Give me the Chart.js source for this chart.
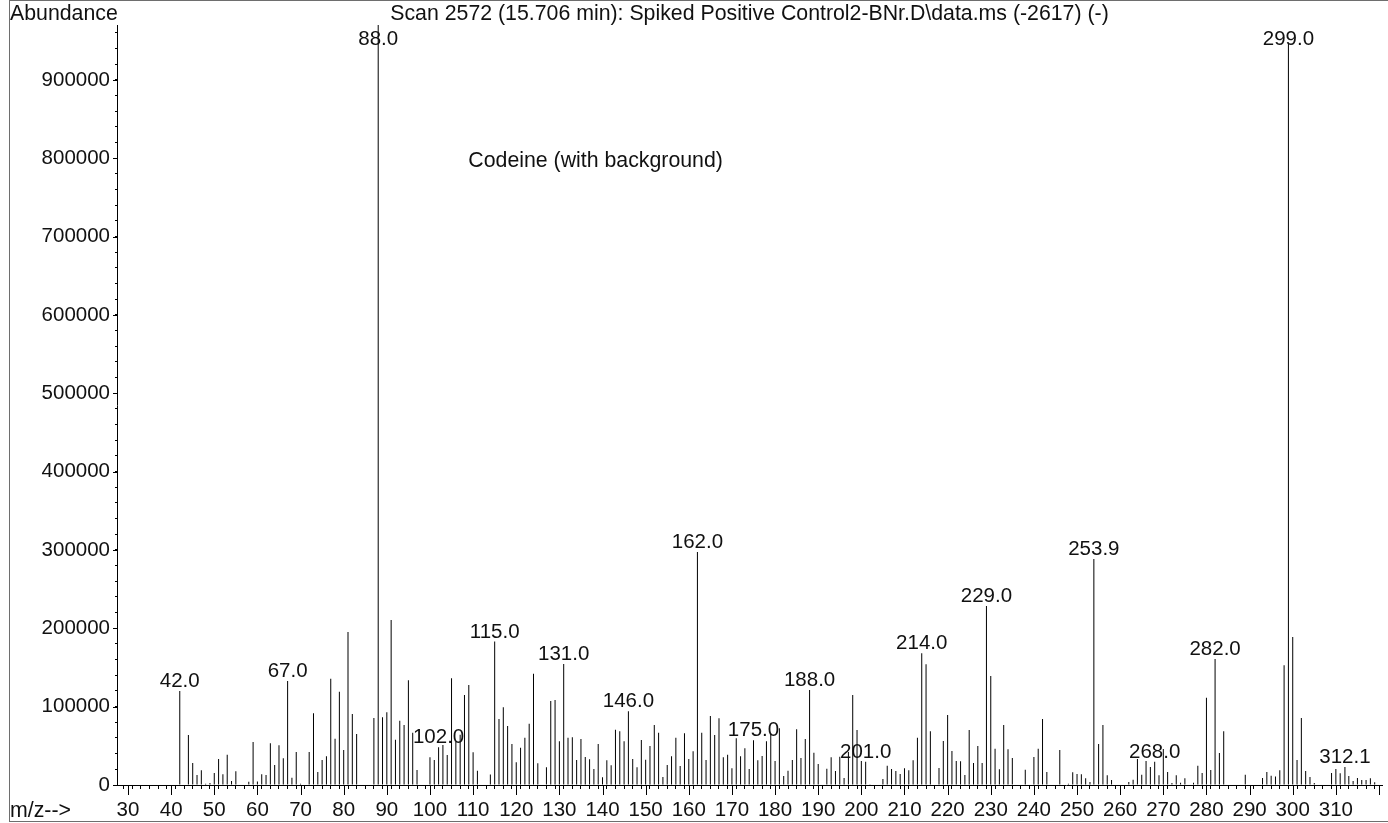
<!DOCTYPE html>
<html>
<head>
<meta charset="utf-8">
<script src="https://cdn.jsdelivr.net/npm/chart.js@4.4.1/dist/chart.umd.min.js"></script>
<style>
  html, body { margin: 0; padding: 0; background: #fff; }
  #wrap { width: 1388px; height: 823px; }
</style>
</head>
<body>
<div id="wrap"><canvas id="mycanvas" width="1388" height="823"></canvas></div>
<script>
// m/z of every stick and its abundance
const mz = [
  42, 44, 45, 46, 47, 48, 49, 50, 51, 52, 53, 54, 55, 58, 59, 60, 61, 62, 63, 64, 65, 66, 67, 68, 69, 70,
  72, 73, 74, 75, 76, 77, 78, 79, 80, 81, 82, 83, 87, 88, 89, 90, 91, 92, 93, 94, 95, 96, 97,
  100, 101, 102, 103, 104, 105, 106, 107, 108, 109, 110, 111, 114, 115, 116, 117, 118, 119, 120,
  121, 122, 123, 124, 125, 127, 128, 129, 130, 131, 132, 133, 134, 135, 136, 137, 138, 139, 140,
  141, 142, 143, 144, 145, 146, 147, 148, 149, 150, 151, 152, 153, 154, 155, 156, 157, 158, 159, 160,
  161, 162, 163, 164, 165, 166, 167, 168, 169, 170, 171, 172, 173, 174, 175, 176, 177, 178, 179, 180,
  181, 182, 183, 184, 185, 186, 187, 188, 189, 190, 192, 193, 194, 195, 196, 197, 198, 199, 200,
  201, 202, 205, 206, 207, 208, 209, 210, 211, 212, 213, 214, 215, 216, 218, 219, 220,
  221, 222, 223, 224, 225, 226, 227, 228, 229, 230, 231, 232, 233, 234, 235, 238, 240,
  241, 242, 243, 246, 248, 249, 250, 251, 252, 253, 253.9, 255, 256, 257, 258, 262, 263, 264, 265, 266, 267, 268, 269, 270,
  271, 272, 273, 274, 275, 277, 278, 279, 280, 281, 282, 283, 284, 289, 293, 294, 295, 296, 297, 298, 299, 300,
  301, 302, 303, 304, 305, 309, 310, 311, 312.1, 313, 314, 315, 316, 317, 318, 319
];
const abundance = [
  120000, 63800, 28000, 12800, 18700, 1500, 2500, 15300, 33200, 13600, 38700, 5100, 17400, 4000, 54900, 4500, 13600, 12800, 53200, 25500, 50600, 34000, 132800, 9400, 42100, 1500,
  42100, 91500, 16600, 31900, 36600, 135700, 59100, 119100, 44700, 195300, 90600, 65100, 85500, 970000, 86400, 92800, 210600, 57900, 82100, 76600, 133600, 66800, 19100,
  35300, 31900, 48100, 51100, 38300, 136200, 55300, 64000, 114900, 127700, 41700, 18300, 13400, 183000, 84300, 99100, 75300, 52300, 28900,
  47700, 60400, 78300, 142100, 27700, 22600, 107200, 108500, 55700, 154500, 60400, 60800, 31900, 58700, 35700, 32800, 20400, 52300, 9800,
  31500, 25100, 70600, 68500, 55700, 94000, 33200, 22600, 57400, 32300, 49800, 76600, 66800, 10200, 25500, 36600, 60400, 24300, 66000, 33200,
  43000, 297500, 66800, 31900, 88100, 63800, 85100, 35300, 38700, 21300, 59600, 36600, 46800, 20400, 57000, 31500, 37000, 55800, 66000, 30600,
  72300, 11500, 18300, 31900, 71100, 34500, 58700, 121300, 41300, 26800, 20800, 35300, 17900, 36000, 8900, 42000, 114900, 70200, 30600,
  29800, 1000, 7700, 24700, 20400, 17900, 14000, 21300, 18700, 31500, 60400, 168100, 154000, 68500, 21700, 56200, 89400,
  43400, 30600, 30200, 12800, 70300, 28100, 49800, 28100, 228500, 139100, 46400, 20000, 76600, 45500, 34500, 19600, 35700,
  46400, 84300, 16600, 44700, 1700, 16200, 14000, 13600, 8500, 3800, 288500, 52300, 76600, 12300, 6400, 3800, 6800, 33200, 13200, 30600, 23000, 29800, 12300, 46000,
  16600, 2600, 12300, 3000, 8500, 3000, 24700, 15300, 111500, 19100, 160900, 40900, 68500, 13200, 8900, 16600, 11900, 10900, 18700, 152800, 947000, 188900,
  31900, 85500, 17900, 10200, 2600, 15300, 20400, 14900, 23000, 11500, 5100, 8900, 6400, 6400, 8500, 3400
];

// peaks that carry an m/z label
const peakMz = [42, 67, 88, 102, 115, 131, 146, 162, 175, 188, 201, 214, 229, 253.9, 268, 282, 299, 312.1];
const peakText = ['42.0', '67.0', '88.0', '102.0', '115.0', '131.0', '146.0', '162.0', '175.0', '188.0',
  '201.0', '214.0', '229.0', '253.9', '268.0', '282.0', '299.0', '312.1'];

const titleText = 'Scan 2572 (15.706 min): Spiked Positive Control2-BNr.D\\data.ms (-2617) (-)';
const noteText = 'Codeine (with background)';
const yName = 'Abundance';
const xName = 'm/z-->';

const FONT = '"Liberation Sans", Arial, Helvetica, sans-serif';

const decor = {
  id: 'decor',
  afterDraw(chart) {
    const ctx = chart.ctx;
    const xs = chart.scales.x, ys = chart.scales.y;
    const area = chart.chartArea;
    ctx.save();

    // outer frame
    ctx.strokeStyle = '#6e6e6e';
    ctx.lineWidth = 1;
    ctx.strokeRect(9.5, 0.5, 1420, 821);

    // long ticks every 10 on x, every 100000 on y
    ctx.strokeStyle = '#000';
    ctx.beginPath();
    xs.ticks.forEach(t => {
      if (t.value % 10 === 0) {
        const px = Math.round(xs.getPixelForValue(t.value)) + 0.5;
        ctx.moveTo(px, area.bottom);
        ctx.lineTo(px, area.bottom + 10);
      }
    });
    ys.ticks.forEach(t => {
      if (t.value % 100000 === 0) {
        const py = Math.round(ys.getPixelForValue(t.value)) + 0.5;
        ctx.moveTo(area.left - 4, py);
        ctx.lineTo(area.left, py);
      }
    });
    ctx.stroke();

    ctx.fillStyle = '#111';
    ctx.textBaseline = 'alphabetic';

    // peak labels
    ctx.font = '20.5px ' + FONT;
    ctx.textAlign = 'center';
    peakMz.forEach((m, i) => {
      const v = abundance[mz.indexOf(m)];
      const px = xs.getPixelForValue(m);
      const top = ys.getPixelForValue(Math.min(v, ys.max));
      const base = Math.max(top - 4, area.top + 20);
      ctx.fillText(peakText[i], px, base);
    });

    ctx.font = '21.3px ' + FONT;
    ctx.fillText(titleText, (area.left + area.right) / 2, 19.5);
    ctx.fillText(noteText, xs.getPixelForValue(138.4), ys.getPixelForValue(788800));

    ctx.textAlign = 'left';
    ctx.fillText(yName, 10, 19.5);
    ctx.fillText(xName, 10, 817);
    ctx.restore();
  }
};

const ctx = document.getElementById('mycanvas').getContext('2d');
Chart.defaults.font.family = FONT;
Chart.defaults.font.size = 20.5;
Chart.defaults.color = '#111';

const chart = new Chart(ctx, {
  type: 'bar',
  data: {
    datasets: [{
      label: 'abundance',
      data: mz.map((m, i) => ({x: m, y: abundance[i]})),
      backgroundColor: '#000',
      borderWidth: 0,
      barThickness: 1,
      inflateAmount: 0,
      grouped: false
    }]
  },
  options: {
    responsive: false,
    animation: false,
    devicePixelRatio: 1,
    events: [],
    layout: { padding: { top: 25, left: 0, right: 0, bottom: 0 } },
    plugins: { legend: { display: false }, tooltip: { enabled: false }, title: { display: false } },
    scales: {
      x: {
        type: 'linear',
        min: 27.45,
        max: 320.7,
        offset: false,
        afterBuildTicks: s => {
          const t = [];
          for (let v = 28; v <= 320; v += 2) t.push({value: v});
          s.ticks = t;
        },
        afterFit: s => { s.height = 38; },
        grid: { drawOnChartArea: false, drawTicks: true, tickLength: 4, tickColor: '#000' },
        border: { display: true, color: '#000', width: 1 },
        ticks: {
          autoSkip: false,
          maxRotation: 0,
          padding: 9,
          callback: v => (v % 10 === 0 && v <= 310) ? String(v) : ''
        }
      },
      y: {
        type: 'linear',
        min: 0,
        max: 970000,
        afterBuildTicks: s => {
          const t = [];
          for (let v = 0; v <= 960000; v += 20000) t.push({value: v});
          s.ticks = t;
        },
        afterFit: s => { s.width = 117; },
        grid: { drawOnChartArea: false, drawTicks: true, tickLength: 2, tickColor: '#000' },
        border: { display: true, color: '#000', width: 1 },
        ticks: {
          autoSkip: false,
          padding: 5,
          callback: v => (v % 100000 === 0) ? String(v) : ''
        }
      }
    }
  },
  plugins: [decor]
});
</script>
</body>
</html>
